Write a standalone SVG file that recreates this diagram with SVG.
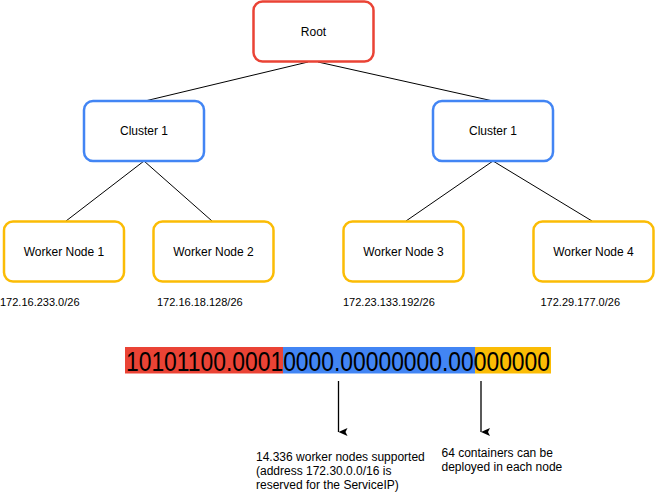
<svg xmlns="http://www.w3.org/2000/svg" width="655" height="502" viewBox="0 0 655 502">
<style>
text{font-family:"Liberation Sans",Arial,sans-serif;fill:#000}
.lbl{font-size:12px;text-anchor:middle}
.ip{font-size:11px}
.note{font-size:12px}
.box{fill:#fff;stroke-width:2.5}
.red{stroke:#EA4335}
.blue{stroke:#4285F4}
.yel{stroke:#FBBC05}
.edge{stroke:#000;stroke-width:1;fill:none}
.bin{font-size:28px}
</style>
<defs>
<marker id="arr" markerWidth="8" markerHeight="10" refX="4" refY="9" orient="auto-start-reverse" markerUnits="userSpaceOnUse" viewBox="0 0 8 10">
<path d="M0,0 L4,2 L8,0 L4,9 Z" fill="#000"/>
</marker>
</defs>
<rect width="655" height="502" fill="#fff"/>
<g id="connectors">
<line class="edge" x1="308" y1="62" x2="145" y2="101"/>
<line class="edge" x1="318" y1="62" x2="493" y2="101"/>
<line class="edge" x1="144" y1="161" x2="66" y2="221"/>
<line class="edge" x1="144" y1="161" x2="212" y2="221"/>
<line class="edge" x1="493" y1="161" x2="406" y2="221"/>
<line class="edge" x1="493" y1="161" x2="592" y2="221"/>
<line x1="338.5" y1="381" x2="338.5" y2="432" stroke="#000" stroke-width="1.3" marker-end="url(#arr)"/>
<line x1="481" y1="381" x2="481" y2="432" stroke="#000" stroke-width="1.3" marker-end="url(#arr)"/>
</g>
<g id="root">
<rect class="box red" x="253.5" y="1.5" width="120" height="60" rx="9"/>
<text class="lbl" x="313.5" y="36">Root</text>
</g>
<g id="cluster-left">
<rect class="box blue" x="84" y="101" width="120" height="60" rx="9"/>
<text class="lbl" x="144" y="135">Cluster 1</text>
</g>
<g id="cluster-right">
<rect class="box blue" x="433" y="101" width="120" height="60" rx="9"/>
<text class="lbl" x="493" y="135">Cluster 1</text>
</g>
<g id="worker1">
<rect class="box yel" x="4" y="221.5" width="120" height="60" rx="9"/>
<text class="lbl" x="64" y="256">Worker Node 1</text>
</g>
<g id="worker2">
<rect class="box yel" x="153.5" y="221.5" width="120" height="60" rx="9"/>
<text class="lbl" x="213.5" y="256">Worker Node 2</text>
</g>
<g id="worker3">
<rect class="box yel" x="343.5" y="221.5" width="120" height="60" rx="9"/>
<text class="lbl" x="403.5" y="256">Worker Node 3</text>
</g>
<g id="worker4">
<rect class="box yel" x="533.5" y="221.5" width="120" height="60" rx="9"/>
<text class="lbl" x="593.5" y="256">Worker Node 4</text>
</g>
<g id="ip-labels">
<text class="ip" x="0" y="305.5">172.16.233.0/26</text>
<text class="ip" x="157" y="305.5">172.16.18.128/26</text>
<text class="ip" x="343" y="305.5">172.23.133.192/26</text>
<text class="ip" x="540.5" y="305.5">172.29.177.0/26</text>
</g>
<g id="binary">
<rect x="125" y="347" width="158" height="26.5" fill="#EA4335"/>
<rect x="283" y="347" width="192" height="26.5" fill="#4285F4"/>
<rect x="475" y="347" width="76" height="26.5" fill="#FBBC05"/>
<text class="bin" x="126" y="370.5" textLength="424" lengthAdjust="spacingAndGlyphs">10101100.00010000.00000000.00000000</text>
</g>
<g id="notes">
<text class="note" x="256" y="461">14.336 worker nodes supported</text>
<text class="note" x="256" y="475">(address 172.30.0.0/16 is</text>
<text class="note" x="256" y="489">reserved for the ServiceIP)</text>
<text class="note" x="441.5" y="457">64 containers can be</text>
<text class="note" x="441.5" y="471">deployed in each node</text>
</g>
</svg>
